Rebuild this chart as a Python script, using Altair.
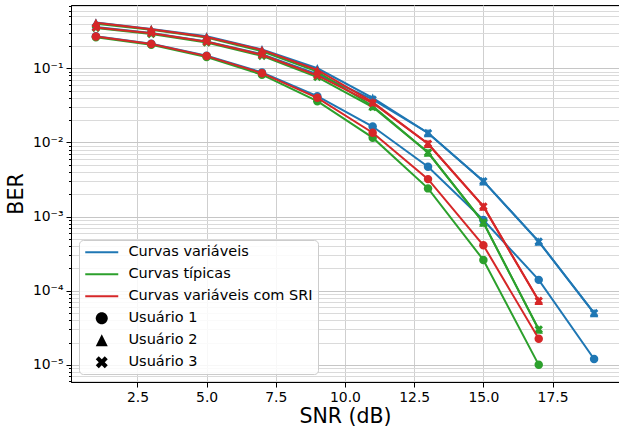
import altair as alt
import pandas as pd

# ---------------- data ----------------
snr_blue = [1, 3, 5, 7, 9, 11, 13, 15, 17, 19]
snr_other = [1, 3, 5, 7, 9, 11, 13, 15, 17]

# Curvas variáveis (blue)
var_u1 = [0.270, 0.215, 0.148, 0.088, 0.042, 0.0164, 0.0047, 0.00090, 0.00014, 1.2e-5]
var_u2 = [0.415, 0.340, 0.270, 0.180, 0.100, 0.0400, 0.0134, 0.00300, 0.00046, 5.0e-5]
var_u3 = [0.360, 0.300, 0.230, 0.155, 0.083, 0.0380, 0.0134, 0.00300, 0.00046, 5.0e-5]
# Curvas típicas (green)
tip_u1 = [0.263, 0.208, 0.142, 0.082, 0.036, 0.0116, 0.0024, 0.00026, 1.0e-5]
tip_u2 = [0.400, 0.330, 0.260, 0.170, 0.090, 0.0310, 0.0073, 0.00083, 3.0e-5]
tip_u3 = [0.350, 0.290, 0.222, 0.147, 0.076, 0.0300, 0.0073, 0.00083, 3.0e-5]
# Curvas variáveis com SRI (red)
sri_u1 = [0.268, 0.212, 0.146, 0.086, 0.040, 0.0135, 0.0032, 0.00041, 2.25e-5]
sri_u2 = [0.410, 0.335, 0.265, 0.177, 0.095, 0.0350, 0.0096, 0.00137, 7.3e-5]
sri_u3 = [0.355, 0.297, 0.228, 0.152, 0.080, 0.0340, 0.0096, 0.00137, 7.3e-5]

curve_names = ["Curvas variáveis", "Curvas típicas", "Curvas variáveis com SRI"]
curve_colors = ["#1f77b4", "#2ca02c", "#d62728"]
user_names = ["Usuário 1", "Usuário 2", "Usuário 3"]

x_ticks = [2.5, 5.0, 7.5, 10.0, 12.5, 15.0, 17.5]
y_major = [1e-5, 1e-4, 1e-3, 1e-2, 1e-1]
y_minor = [m * 10.0 ** k for k in range(-6, 0) for m in range(2, 10)]
y_minor = [v for v in y_minor if 5.87e-6 <= v <= 0.714]

# ---------------- marker shapes ----------------
def poly(points, dx=0.0):
    s = "M" + "L".join(f"{x + dx:.3f},{y:.3f}" for x, y in points)
    return s + "Z"

def circle(dx=0.0):
    return f"M{-1 + dx:.3f},0A1,1,0,1,1,{1 + dx:.3f},0A1,1,0,1,1,{-1 + dx:.3f},0Z"

TRI_PTS = [(0, -1), (1, 1), (-1, 1)]
X_PTS = [(-0.5, -1), (0, -0.5), (0.5, -1), (1, -0.5), (0.5, 0), (1, 0.5),
         (0.5, 1), (0, 0.5), (-0.5, 1), (-1, 0.5), (-0.5, 0), (-1, -0.5)]
shapes = [circle(), poly(TRI_PTS), poly(X_PTS)]

LEG_DX = 1.75
line_sym = "M-1,-0.17L4.5,-0.17L4.5,0.17L-1,0.17Z"
legend_shapes = [line_sym, line_sym, line_sym,
                 circle(LEG_DX), poly(TRI_PTS, LEG_DX), poly(X_PTS, LEG_DX)]
legend_labels = curve_names + user_names
legend_colors = curve_colors + ["black", "black", "black"]

# ---------------- scales / axes ----------------
FONT = "DejaVu Sans"
x_scale = alt.Scale(domain=[0.1, 19.9], nice=False, zero=False)
y_scale = alt.Scale(type="log", domain=[5.87e-6, 0.714], nice=False)

x_axis = alt.Axis(values=x_ticks, format=".1f", title="SNR (dB)", grid=True,
                  gridColor="#cfcfcf", tickSize=5, labelPadding=3, titlePadding=3,
                  labelFontSize=13.9, titleFontSize=20.5, titleFontWeight="normal",
                  labelFont=FONT, titleFont=FONT)

sup = ("'10' + replace(replace(replace(replace(replace(replace(replace("
       "'' + round(log(datum.value)/LN10),'-','⁻'),'1','¹'),'2','²'),'3','³'),"
       "'4','⁴'),'5','⁵'),'6','⁶')")
y_axis_major = alt.Axis(values=y_major, labelExpr=sup, title="BER", grid=True,
                        gridColor="#c6c6c6", tickSize=5, labelPadding=3, titlePadding=6,
                        orient="left", labelFontSize=13.9, titleFontSize=20.5,
                        titleFontWeight="normal", labelFont=FONT, titleFont=FONT)
y_axis_minor = alt.Axis(values=y_minor, labels=False, domain=False, title="", grid=True,
                        gridColor="#dadada", tickSize=2.5, orient="left")

series = [
    (snr_blue, [var_u1, var_u2, var_u3]),
    (snr_other, [tip_u1, tip_u2, tip_u3]),
    (snr_other, [sri_u1, sri_u2, sri_u3]),
]

layers = []
axis_count = 0
for ci, (snr, users) in enumerate(series):
    rows = []
    for ui, vals in enumerate(users):
        for s, v in zip(snr, vals):
            rows.append({"snr": s, "ber": v, "user": user_names[ui]})
    df = pd.DataFrame(rows)
    for ui in range(3):
        sub = df[df["user"] == user_names[ui]]
        if axis_count == 0:
            yax = y_axis_major
        elif axis_count == 1:
            yax = y_axis_minor
        else:
            yax = None
        axis_count += 1
        line = alt.Chart(sub).mark_line(color=curve_colors[ci], strokeWidth=2).encode(
            x=alt.X("snr:Q", scale=x_scale, axis=x_axis),
            y=alt.Y("ber:Q", scale=y_scale, axis=yax),
        )
        pts = alt.Chart(sub).mark_point(shape=shapes[ui], filled=True, size=72,
                                        color=curve_colors[ci], opacity=1,
                                        strokeWidth=0).encode(
            x=alt.X("snr:Q", scale=x_scale, axis=x_axis),
            y=alt.Y("ber:Q", scale=y_scale, axis=None),
        )
        layers += [line, pts]

legend_df = pd.DataFrame({"label": legend_labels})
leg = alt.Legend(title=None, orient="none", legendX=8, legendY=235,
                 fillColor="rgba(255,255,255,0.85)", strokeColor="#cccccc",
                 cornerRadius=4, padding=5, labelFont=FONT, labelFontSize=14.5,
                 labelColor="black", symbolSize=144, symbolStrokeWidth=0,
                 labelOffset=30, rowPadding=7, labelLimit=400)
legend_layer = alt.Chart(legend_df).transform_filter("false").mark_point(
    filled=True, opacity=1).encode(
    color=alt.Color("label:N", scale=alt.Scale(domain=legend_labels, range=legend_colors), legend=leg),
    shape=alt.Shape("label:N", scale=alt.Scale(domain=legend_labels, range=legend_shapes), legend=leg),
)

chart = alt.layer(*layers, legend_layer).resolve_axis(y="independent").properties(
    width=548, height=377,
    autosize=alt.AutoSizeParams(type="none"),
    padding={"left": 71, "top": 5, "right": 0, "bottom": 48},
    background="white",
).configure_axis(
    labelFont=FONT, titleFont=FONT, labelFontSize=13.9, titleFontSize=20.5,
    titleFontWeight="normal", labelColor="black", titleColor="black",
    domainColor="black", tickColor="black", gridWidth=1,
).configure_view(stroke="black", strokeWidth=1)

chart.save("out.html", embed_options={"renderer": "svg", "actions": False})
